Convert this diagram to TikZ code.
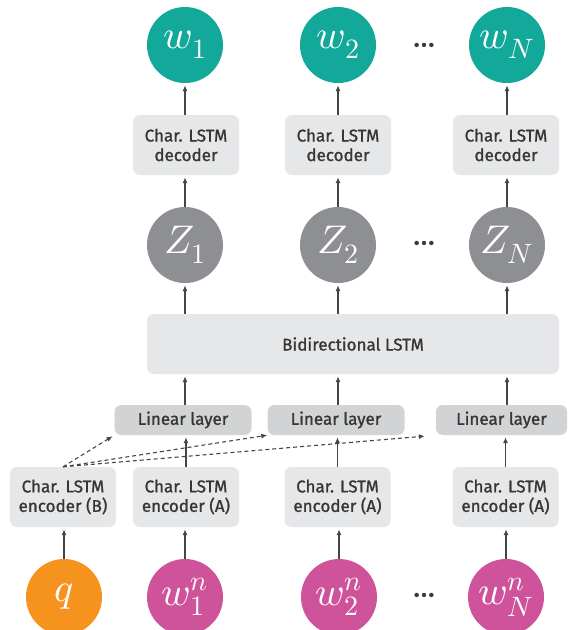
\documentclass[tikz,border=0pt]{standalone}
\usepackage{fontspec}
\usepackage{unicode-math}
\setsansfont{Fira Sans}[FakeBold=1.2]
\setmathfont{Latin Modern Math}
\usepackage{tikz}
\usetikzlibrary{arrows.meta,positioning}
\definecolor{nettext}{HTML}{363636}
\definecolor{netteal}{HTML}{12A89A}
\definecolor{netgray}{HTML}{8E8F93}
\definecolor{netorange}{HTML}{F6931E}
\definecolor{netpink}{HTML}{CE539B}
\definecolor{netbox}{HTML}{E6E7E8}
\definecolor{netlin}{HTML}{D1D3D4}
\definecolor{netarrow}{HTML}{454545}
\newcommand{\etcdots}{\textbullet\kern1.5pt\textbullet\kern1.5pt\textbullet}
\tikzset{
  block/.style={rectangle,rounded corners=2.4mm,fill=netbox,text=nettext,align=center,minimum width=106pt,minimum height=60pt,font=\sffamily\fontsize{17}{19.5}\selectfont},
  linbox/.style={block,fill=netlin,minimum width=137pt,minimum height=30pt},
  unit/.style={circle,minimum size=76pt,inner sep=0pt,text=white,font=\fontsize{40}{40}\selectfont},
  more/.style={text=nettext,font=\sffamily\fontsize{18}{18}\selectfont},
  flow/.style={-{Latex[length=6pt,width=5pt]},line width=1.4pt,draw=netarrow,shorten >=2pt},
  dashedflow/.style={flow,line width=1.1pt,dash pattern=on 4pt off 3pt}
}
\begin{document}
\begin{tikzpicture}[x=1pt,y=-1pt]
\useasboundingbox (0,0) rectangle (568,630);
% outputs
\node[unit,fill=netteal] (w1) at (185,45) {$w_1$};
\node[unit,fill=netteal] (w2) at (338,45) {$w_2$};
\node[unit,fill=netteal] (wN) at (507,45) {$w_N$};
\node[more] (dotstop) at (424,47) {\etcdots};
% decoders
\node[block] (dec1) at (186,145) {Char. LSTM\\decoder};
\node[block] (dec2) at (338,145) {Char. LSTM\\decoder};
\node[block] (decN) at (506,145) {Char. LSTM\\decoder};
% latent
\node[unit,fill=netgray] (z1) at (185,245) {$Z_1$};
\node[unit,fill=netgray] (z2) at (338,245) {$Z_2$};
\node[unit,fill=netgray] (zN) at (507,245) {$Z_N$};
\node[more] (dotsmid) at (424,245) {\etcdots};
\node[block,minimum width=412pt] (bilstm) at (353,344) {Bidirectional LSTM};
% linear layers
\node[linbox] (lin1) at (183,420) {Linear layer};
\node[linbox] (lin2) at (336,420) {Linear layer};
\node[linbox,minimum width=131pt] (linN) at (501.5,420) {Linear layer};
% encoders
\node[block] (encB) at (63,497) {Char. LSTM\\encoder (B)};
\node[block] (enc1) at (186,497) {Char. LSTM\\encoder (A)};
\node[block] (enc2) at (337.5,497) {Char. LSTM\\encoder (A)};
\node[block] (encN) at (505.5,497) {Char. LSTM\\encoder (A)};
% inputs
\node[unit,fill=netorange] (q) at (64,597) {$q$};
\node[unit,fill=netpink] (wn1) at (185,597) {$w_1^n$};
\node[unit,fill=netpink] (wn2) at (339,597) {$w_2^n$};
\node[unit,fill=netpink] (wnN) at (506,597) {$w_N^n$};
\node[more] (dotsbot) at (424,597) {\etcdots};
% input side
\draw[flow] (q.north) -- (q.north |- encB.south);
\draw[flow] (wn1.north) -- (wn1.north |- enc1.south);
\draw[flow] (wn2.north) -- (wn2.north |- enc2.south);
\draw[flow] (wnN.north) -- (wnN.north |- encN.south);
\draw[flow] (enc1.north) -- (enc1.north |- lin1.south);
\draw[flow] (enc2.north) -- (enc2.north |- lin2.south);
\draw[flow] (encN.north) -- (encN.north |- linN.south);
\draw[dashedflow] (encB.north) -- (lin1.south west);
\draw[dashedflow,shorten >=0pt] (encB.north) -- (lin2.south west);
\draw[dashedflow,shorten >=11pt] (encB.north) -- (linN.south west);
% into the bidirectional LSTM
\draw[flow] (z1 |- lin1.north) -- (z1 |- bilstm.south);
\draw[flow] (z2 |- lin2.north) -- (z2 |- bilstm.south);
\draw[flow] (zN |- linN.north) -- (zN |- bilstm.south);
% output side
\draw[flow] (z1 |- bilstm.north) -- (z1.south);
\draw[flow] (z2 |- bilstm.north) -- (z2.south);
\draw[flow] (zN |- bilstm.north) -- (zN.south);
\draw[flow] (z1.north) -- (z1 |- dec1.south);
\draw[flow] (z2.north) -- (z2 |- dec2.south);
\draw[flow] (zN.north) -- (zN |- decN.south);
\draw[flow] (w1 |- dec1.north) -- (w1.south);
\draw[flow] (w2 |- dec2.north) -- (w2.south);
\draw[flow] (wN |- decN.north) -- (wN.south);
\end{tikzpicture}
\end{document}
